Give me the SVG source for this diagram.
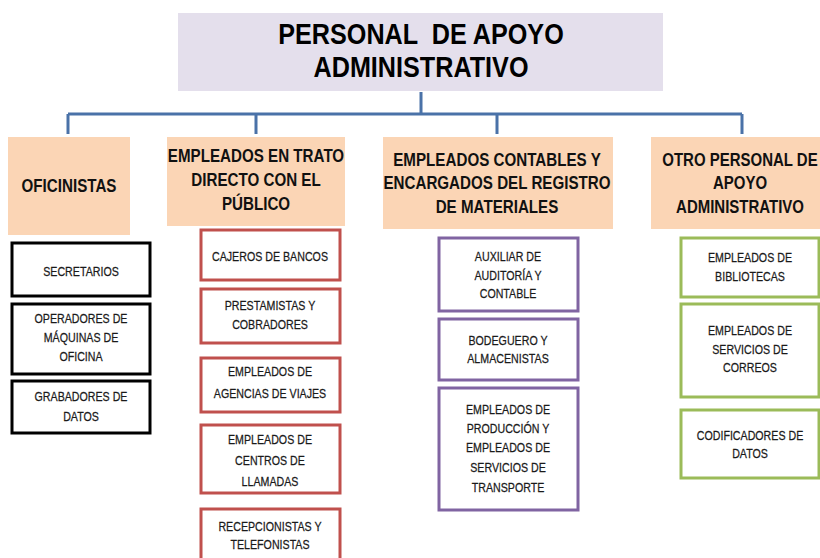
<svg xmlns="http://www.w3.org/2000/svg" width="820" height="558" viewBox="0 0 820 558">
<style>
  .title{font-family:"Liberation Sans",Arial,sans-serif;font-weight:bold;font-size:30px;fill:#000;text-anchor:middle}
  .hdr{font-family:"Liberation Sans",Arial,sans-serif;font-weight:bold;font-size:18.5px;fill:#111;text-anchor:middle}
  .sm{font-family:"Liberation Sans",Arial,sans-serif;font-size:13px;fill:#1a1a1a;text-anchor:middle;stroke:#1a1a1a;stroke-width:0.25}
  .hbox{fill:#fbd5b5}
  .blk{fill:#fff;stroke:#000;stroke-width:3}
  .red{fill:#fff;stroke:#c0504d;stroke-width:3}
  .pur{fill:#fff;stroke:#8064a2;stroke-width:3}
  .grn{fill:#fff;stroke:#9bbb59;stroke-width:3}
  .conn{fill:none;stroke:#4a72a8;stroke-width:3}
</style>
<rect width="820" height="558" fill="#fff"/>

<g id="connectors">
  <path class="conn" d="M421 92 V114 M68 114 H742 M68 114 V134 M256 114 V134 M497 114 V134 M742 114 V134"/>
</g>

<g id="root">
  <rect x="178" y="13" width="485" height="78" fill="#e4dfec"/>
  <g transform="matrix(0.84 0 0 1 421 0)">
    <text class="title" x="0" y="44" xml:space="preserve">PERSONAL  DE APOYO</text>
    <text class="title" x="0" y="77">ADMINISTRATIVO</text>
  </g>
</g>

<g id="oficinistas">
  <rect class="hbox" x="8" y="137" width="122" height="98"/>
  <g transform="matrix(0.82 0 0 1 69 0)">
    <text class="hdr" x="0" y="192">OFICINISTAS</text>
  </g>
</g>
<g id="trato-directo">
  <rect class="hbox" x="167" y="137" width="178" height="89"/>
  <g transform="matrix(0.82 0 0 1 256 0)">
    <text class="hdr" x="0" y="162">EMPLEADOS EN TRATO</text>
    <text class="hdr" x="0" y="186">DIRECTO CON EL</text>
    <text class="hdr" x="0" y="210">PÚBLICO</text>
  </g>
</g>
<g id="contables">
  <rect class="hbox" x="383" y="137" width="230" height="92"/>
  <g transform="matrix(0.82 0 0 1 497 0)">
    <text class="hdr" x="0" y="166">EMPLEADOS CONTABLES Y</text>
    <text class="hdr" x="0" y="189">ENCARGADOS DEL REGISTRO</text>
    <text class="hdr" x="0" y="213">DE MATERIALES</text>
  </g>
</g>
<g id="otro-personal">
  <rect class="hbox" x="651" y="137" width="175" height="92"/>
  <g transform="matrix(0.81 0 0 1 740 0)">
    <text class="hdr" x="0" y="166">OTRO PERSONAL DE</text>
    <text class="hdr" x="0" y="189">APOYO</text>
    <text class="hdr" x="0" y="213">ADMINISTRATIVO</text>
  </g>
</g>

<g id="secretarios">
  <rect class="blk" x="12" y="243" width="138" height="53"/>
  <g transform="matrix(0.82 0 0 1 81 0)">
    <text class="sm" x="0" y="276.5">SECRETARIOS</text>
  </g>
</g>
<g id="operadores">
  <rect class="blk" x="12" y="304" width="138" height="70"/>
  <g transform="matrix(0.82 0 0 1 81 0)">
    <text class="sm" x="0" y="323.5">OPERADORES DE</text>
    <text class="sm" x="0" y="342.5">MÁQUINAS DE</text>
    <text class="sm" x="0" y="361.5">OFICINA</text>
  </g>
</g>
<g id="grabadores">
  <rect class="blk" x="12" y="381" width="138" height="52"/>
  <g transform="matrix(0.82 0 0 1 81 0)">
    <text class="sm" x="0" y="401.5">GRABADORES DE</text>
    <text class="sm" x="0" y="421.5">DATOS</text>
  </g>
</g>

<g id="cajeros">
  <rect class="red" x="201" y="230" width="139" height="50"/>
  <g transform="matrix(0.82 0 0 1 270 0)">
    <text class="sm" x="0" y="261.5">CAJEROS DE BANCOS</text>
  </g>
</g>
<g id="prestamistas">
  <rect class="red" x="201" y="289" width="139" height="54"/>
  <g transform="matrix(0.82 0 0 1 270 0)">
    <text class="sm" x="0" y="310.5">PRESTAMISTAS Y</text>
    <text class="sm" x="0" y="329.5">COBRADORES</text>
  </g>
</g>
<g id="agencias">
  <rect class="red" x="201" y="358" width="139" height="54"/>
  <g transform="matrix(0.82 0 0 1 270 0)">
    <text class="sm" x="0" y="376.5">EMPLEADOS DE</text>
    <text class="sm" x="0" y="398.5">AGENCIAS DE VIAJES</text>
  </g>
</g>
<g id="llamadas">
  <rect class="red" x="201" y="425" width="139" height="68"/>
  <g transform="matrix(0.82 0 0 1 270 0)">
    <text class="sm" x="0" y="444.5">EMPLEADOS DE</text>
    <text class="sm" x="0" y="465.5">CENTROS DE</text>
    <text class="sm" x="0" y="486.5">LLAMADAS</text>
  </g>
</g>
<g id="recepcionistas">
  <rect class="red" x="201" y="509" width="139" height="60"/>
  <g transform="matrix(0.82 0 0 1 270 0)">
    <text class="sm" x="0" y="531.5">RECEPCIONISTAS Y</text>
    <text class="sm" x="0" y="549.5">TELEFONISTAS</text>
  </g>
</g>

<g id="auxiliar">
  <rect class="pur" x="439" y="238" width="139" height="73"/>
  <g transform="matrix(0.82 0 0 1 508 0)">
    <text class="sm" x="0" y="261.5">AUXILIAR DE</text>
    <text class="sm" x="0" y="280.5">AUDITORÍA Y</text>
    <text class="sm" x="0" y="298.5">CONTABLE</text>
  </g>
</g>
<g id="bodeguero">
  <rect class="pur" x="439" y="319" width="139" height="61"/>
  <g transform="matrix(0.82 0 0 1 508 0)">
    <text class="sm" x="0" y="345.5">BODEGUERO Y</text>
    <text class="sm" x="0" y="363.5">ALMACENISTAS</text>
  </g>
</g>
<g id="produccion">
  <rect class="pur" x="439" y="388" width="139" height="122"/>
  <g transform="matrix(0.82 0 0 1 508 0)">
    <text class="sm" x="0" y="414.5">EMPLEADOS DE</text>
    <text class="sm" x="0" y="433.5">PRODUCCIÓN Y</text>
    <text class="sm" x="0" y="452.5">EMPLEADOS DE</text>
    <text class="sm" x="0" y="472.5">SERVICIOS DE</text>
    <text class="sm" x="0" y="492.5">TRANSPORTE</text>
  </g>
</g>

<g id="bibliotecas">
  <rect class="grn" x="681" y="238" width="138" height="59"/>
  <g transform="matrix(0.82 0 0 1 750 0)">
    <text class="sm" x="0" y="262.5">EMPLEADOS DE</text>
    <text class="sm" x="0" y="281.5">BIBLIOTECAS</text>
  </g>
</g>
<g id="correos">
  <rect class="grn" x="681" y="304" width="138" height="93"/>
  <g transform="matrix(0.82 0 0 1 750 0)">
    <text class="sm" x="0" y="335.5">EMPLEADOS DE</text>
    <text class="sm" x="0" y="354.5">SERVICIOS DE</text>
    <text class="sm" x="0" y="372.5">CORREOS</text>
  </g>
</g>
<g id="codificadores">
  <rect class="grn" x="681" y="410" width="138" height="68"/>
  <g transform="matrix(0.82 0 0 1 750 0)">
    <text class="sm" x="0" y="440.5">CODIFICADORES DE</text>
    <text class="sm" x="0" y="458.5">DATOS</text>
  </g>
</g>
</svg>
